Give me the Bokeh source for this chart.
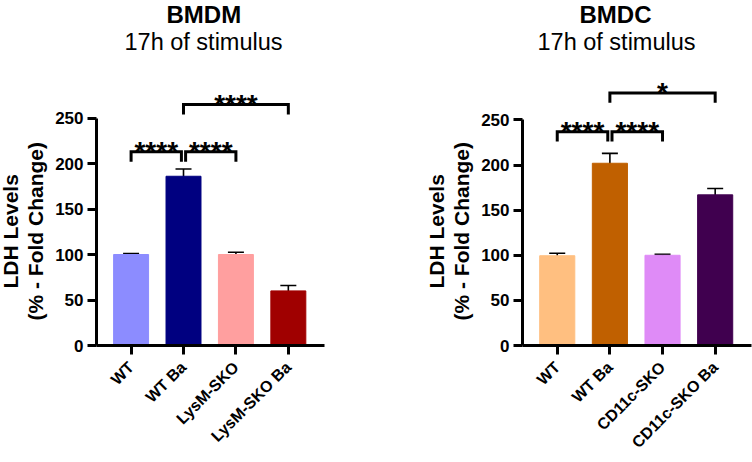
import math
from bokeh.plotting import figure
from bokeh.models import Range1d, FixedTicker, Whisker, TeeHead, ColumnDataSource, Title
from bokeh.layouts import row
from bokeh.embed import file_html
from bokeh.resources import INLINE
from bokeh.core.properties import value

FONT = "Liberation Sans"

# ---------------- data ----------------
bmdm_groups = ["WT", "WT Ba", "LysM-SKO", "LysM-SKO Ba"]
bmdm_means = [100, 186, 100, 60]
bmdm_err = [1, 8, 2.5, 6]
bmdm_colors = ["#8C8CFF", "#000080", "#FF9F9F", "#A00000"]
# comparisons: (group i, group j, bracket height, label)
bmdm_comp_i = [0, 1, 1]
bmdm_comp_j = [1, 2, 3]
bmdm_comp_h = [213, 213, 265]
bmdm_comp_lab = ["****", "****", "****"]

bmdc_groups = ["WT", "WT Ba", "CD11c-SKO", "CD11c-SKO Ba"]
bmdc_means = [99.5, 202, 100, 167]
bmdc_err = [2.7, 11, 1, 7]
bmdc_colors = ["#FFBF80", "#C06000", "#DF8BF7", "#40004F"]
bmdc_comp_i = [0, 1, 1]
bmdc_comp_j = [1, 2, 3]
bmdc_comp_h = [237, 237, 280]
bmdc_comp_lab = ["****", "****", "*"]

y_ticks = [0, 50, 100, 150, 200, 250]
y_label_1 = "LDH Levels"
y_label_2 = "(% - Fold Change)"
subtitle = "17h of stimulus"

FRAME_TOP = 53.33  # expected top of plotting frame (px)
H = 462


def panel(title, groups, means, errs, colors, ci, cj, ch, clab,
          px_per_unit, border_left, border_right, border_bottom, off_title, off_sub,
          off_lab1, off_lab2, xlab_standoff):
    ymax = (H - border_bottom - FRAME_TOP) / px_per_unit
    p = figure(width=376, height=H, output_backend="svg", toolbar_location=None,
               x_range=Range1d(-0.66, 3.69), y_range=Range1d(0, ymax),
               min_border_left=border_left, min_border_right=border_right,
               min_border_bottom=border_bottom, min_border_top=0,
               title=None)
    p.outline_line_color = None
    p.xgrid.grid_line_color = None
    p.ygrid.grid_line_color = None
    p.background_fill_color = "white"
    p.border_fill_color = "white"

    x = list(range(len(groups)))
    lower = [m - e for m, e in zip(means, errs)]
    upper = [m + e for m, e in zip(means, errs)]
    src = ColumnDataSource(dict(x=x, top=means, color=colors, lower=lower, upper=upper))
    p.vbar(x="x", top="top", width=0.667, bottom=0, fill_color="color",
           line_color="color", source=src)
    w = Whisker(base="x", upper="upper", lower="lower", source=src,
                line_color="black", line_width=1.6,
                upper_head=TeeHead(size=16, line_color="black", line_width=1.6),
                lower_head=TeeHead(size=16, line_color="black", line_width=1.6))
    p.add_layout(w)

    # significance brackets
    leg = 11
    gap = 0.04
    xs, ys, tx, ty = [], [], [], []
    for i, j, h in zip(ci, cj, ch):
        x0, x1 = float(i), float(j)
        if i == 1 and j == 2:
            x0 += gap
        if i == 0 and j == 1:
            x1 -= gap
        xs.append([x0, x0, x1, x1])
        ys.append([h - leg, h, h, h - leg])
        tx.append((x0 + x1) / 2)
        ty.append(h)
    p.multi_line(xs, ys, line_color="black", line_width=3, line_join="miter")
    p.text(tx, ty, text=clab, text_align="center", text_baseline="alphabetic",
           text_font=value(FONT), text_font_style="bold", text_font_size="28px",
           text_color="black")

    # axes
    yax = p.yaxis[0]
    yax.ticker = FixedTicker(ticks=y_ticks)
    yax.bounds = (0, 250)
    yax.minor_tick_line_color = None
    yax.major_tick_in = 0
    yax.major_tick_out = 9
    yax.major_tick_line_width = 3
    yax.axis_line_width = 3
    yax.major_label_text_font = FONT
    yax.major_label_text_font_style = "bold"
    yax.major_label_text_font_size = "17px"
    yax.major_label_text_color = "black"
    yax.major_label_standoff = 4

    xax = p.xaxis[0]
    xax.ticker = FixedTicker(ticks=x)
    xax.major_label_overrides = {i: g for i, g in enumerate(groups)}
    xax.minor_tick_line_color = None
    xax.major_tick_in = 0
    xax.major_tick_out = 9
    xax.major_tick_line_width = 3
    xax.axis_line_width = 3
    xax.major_label_orientation = math.pi / 4
    xax.major_label_text_font = FONT
    xax.major_label_text_font_style = "bold"
    xax.major_label_text_font_size = "16px"
    xax.major_label_text_color = "black"
    xax.major_label_standoff = xlab_standoff

    # y-axis label (two centred lines), centred on the 0-250 axis
    p.add_layout(Title(text=y_label_2, align="left", offset=off_lab2,
                       text_font=FONT, text_font_style="bold", text_font_size="21px",
                       text_color="black", standoff=11), "left")
    p.add_layout(Title(text=y_label_1, align="left", offset=off_lab1,
                       text_font=FONT, text_font_style="bold", text_font_size="21px",
                       text_color="black", standoff=-10), "left")

    p.add_layout(Title(text=subtitle, align="left", offset=off_sub,
                       text_font=FONT, text_font_style="normal",
                       text_font_size="23.5px", text_color="black", standoff=-0.3), "above")
    p.add_layout(Title(text=title, align="left", offset=off_title,
                       text_font=FONT, text_font_style="bold",
                       text_font_size="24px", text_color="black", standoff=-3.42), "above")
    return p


p1 = panel("BMDM", bmdm_groups, bmdm_means, bmdm_err, bmdm_colors,
           bmdm_comp_i, bmdm_comp_j, bmdm_comp_h, bmdm_comp_lab,
           0.912, 96, 52, 117, 70, 28, 57, 25, 10)
p2 = panel("BMDC", bmdc_groups, bmdc_means, bmdc_err, bmdc_colors,
           bmdc_comp_i, bmdc_comp_j, bmdc_comp_h, bmdc_comp_lab,
           0.9136, 146, 1, 114, 57, 15, 57, 25, 10)

layout = row(p1, p2)
open("out.html", "w").write(file_html(layout, INLINE))
